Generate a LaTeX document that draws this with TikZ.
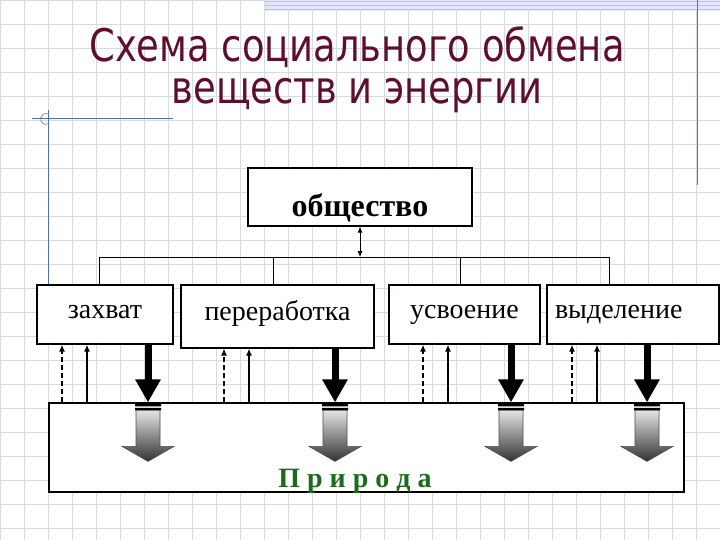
\documentclass[tikz,border=0pt]{standalone}
\usepackage{fontspec}
\setmainfont{Liberation Serif}
\newfontfamily\titlefont[FakeStretch=0.82]{DejaVu Sans}
\usetikzlibrary{arrows.meta, positioning}
\definecolor{titlered}{RGB}{95,15,45}
\definecolor{naturegreen}{RGB}{30,105,30}
\definecolor{gridgray}{RGB}{214,218,226}
\definecolor{rulerblue}{RGB}{80,110,160}

\begin{document}
\begin{tikzpicture}[x=1pt,y=-1pt]
    \tikzstyle{box}=[draw,line width=1.2pt,fill=white,text height=12pt,text depth=4pt,font=\fontsize{28}{30}\selectfont]
    \tikzstyle{upsolid}=[-{Latex[length=7pt,width=6pt]},line width=1.4pt]
    \tikzstyle{updashed}=[upsolid,dash pattern=on 5pt off 3pt]
    \tikzstyle{flow}=[-{Triangle[length=23pt,width=24pt]},line width=7pt]
    \tikzstyle{sink}=[shade,top color=white,bottom color=black!80,draw=black!70,line width=0.6pt]
    \tikzstyle{heading}=[font=\titlefont\fontsize{45}{42}\selectfont,text=titlered,align=center,inner sep=0pt]

    \useasboundingbox (0,0) rectangle (720,540);
    % sheet
    \draw[gridgray,line width=0.7pt,step=24pt] (0,0) grid (720,540);
    \fill[blue!10] (265,0) rectangle (720,11);
    \draw[blue!25,line width=1pt] (265,2) -- (720,2) (265,6) -- (720,6) (265,10) -- (720,10);
    \draw[rulerblue!70!gray,line width=1pt] (697,0) -- (697,185);
    \draw[rulerblue,line width=1pt] (32,119) -- (173,119) (48,110) -- (48,290);
    \draw[rulerblue,line width=0.6pt] (48.75,123.8) arc (60:300:5.5);

    \node[heading] (title) at (357,70) {Схема социального обмена\\веществ и энергии};

    \node[box,minimum width=224pt,minimum height=58pt,text height=40pt,text depth=2pt,
          font=\fontsize{32}{34}\selectfont\bfseries] (obs) at (360,197) {общество};
    \node[box,minimum width=136pt,minimum height=59pt] (zah) at (105,314.5) {захват};
    \node[box,minimum width=193pt,minimum height=63pt] (per) at (277.5,316.5) {переработка};
    \node[box,minimum width=151pt,minimum height=59pt] (usv) at (464.5,314.5) {усвоение};
    \node[box,minimum height=59pt,text width=156pt,inner xsep=8pt,align=left] (vyd) at (633,314.5) {выделение};

    \node[draw,line width=1.2pt,fill=white,minimum width=635pt,minimum height=89pt] (pr) at (366.5,447.5) {};
    \node[font=\fontsize{28}{30}\selectfont\bfseries,text=naturegreen,anchor=base] (prlabel) at (355,487) {П р и р о д а};

    \coordinate (bus) at (0,257);
    \coordinate (b1) at (99,0);
    \coordinate (b2) at (273,0);
    \coordinate (b3) at (460,0);
    \coordinate (b4) at (609,0);
    \coordinate (a1) at (62,0);
    \coordinate (a2) at (224,0);
    \coordinate (a3) at (423,0);
    \coordinate (a4) at (572,0);
    \coordinate (s1) at (87,0);
    \coordinate (s2) at (249,0);
    \coordinate (s3) at (448,0);
    \coordinate (s4) at (597,0);
    \coordinate (f1) at (148,0);
    \coordinate (f2) at (335,0);
    \coordinate (f3) at (511,0);
    \coordinate (f4) at (647,0);

    \draw[line width=0.9pt] (b1 |- zah.north) -- (b1 |- bus) -- (b4 |- bus) -- (b4 |- vyd.north)
        (b2 |- bus) -- (b2 |- per.north)
        (b3 |- bus) -- (b3 |- usv.north);
    \draw[{Latex[length=6pt,width=5pt]}-{Latex[length=6pt,width=5pt]},line width=0.9pt] (obs.south) -- (obs.south |- bus);

    \draw[updashed] (a1 |- pr.north) -- (a1 |- zah.south);
    \draw[upsolid] (s1 |- pr.north) -- (s1 |- zah.south);
    \draw[updashed] (a2 |- pr.north) -- (a2 |- per.south);
    \draw[upsolid] (s2 |- pr.north) -- (s2 |- per.south);
    \draw[updashed] (a3 |- pr.north) -- (a3 |- usv.south);
    \draw[upsolid] (s3 |- pr.north) -- (s3 |- usv.south);
    \draw[updashed] (a4 |- pr.north) -- (a4 |- vyd.south);
    \draw[upsolid] (s4 |- pr.north) -- (s4 |- vyd.south);

    \draw[flow] (f1 |- zah.south) -- (f1 |- pr.north);
    \draw[flow] (f2 |- per.south) -- (f2 |- pr.north);
    \draw[flow] (f3 |- usv.south) -- (f3 |- pr.north);
    \draw[flow] (f4 |- vyd.south) -- (f4 |- pr.north);

    \fill (f1 |- pr.north) ++(-13,1) rectangle ++(26,3) ++(-26,1.5) rectangle ++(26,2.5);
    \path[sink] (f1 |- pr.north) ++(-12,8) -- ++(24,0) -- ++(0,36) -- ++(14,0) -- ++(-26,15) -- ++(-26,-15) -- ++(14,0) -- cycle;
    \fill (f2 |- pr.north) ++(-13,1) rectangle ++(26,3) ++(-26,1.5) rectangle ++(26,2.5);
    \path[sink] (f2 |- pr.north) ++(-12,8) -- ++(24,0) -- ++(0,36) -- ++(14,0) -- ++(-26,15) -- ++(-26,-15) -- ++(14,0) -- cycle;
    \fill (f3 |- pr.north) ++(-13,1) rectangle ++(26,3) ++(-26,1.5) rectangle ++(26,2.5);
    \path[sink] (f3 |- pr.north) ++(-12,8) -- ++(24,0) -- ++(0,36) -- ++(14,0) -- ++(-26,15) -- ++(-26,-15) -- ++(14,0) -- cycle;
    \fill (f4 |- pr.north) ++(-13,1) rectangle ++(26,3) ++(-26,1.5) rectangle ++(26,2.5);
    \path[sink] (f4 |- pr.north) ++(-12,8) -- ++(24,0) -- ++(0,36) -- ++(14,0) -- ++(-26,15) -- ++(-26,-15) -- ++(14,0) -- cycle;
\end{tikzpicture}
\end{document}
